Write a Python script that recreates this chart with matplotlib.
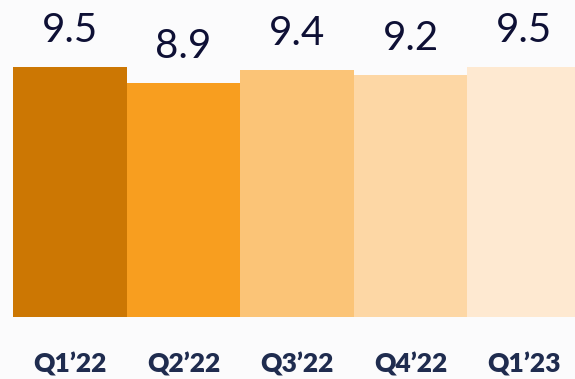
import matplotlib.pyplot as plt

quarters = ['Q1\u201922', 'Q2\u201922', 'Q3\u201922', 'Q4\u201922', 'Q1\u201923']
scores = [9.5, 8.9, 9.4, 9.2, 9.5]
colors = ['#cc7703', '#f89e1f', '#fbc477', '#fdd7a5', '#fee9d1']

bg = '#fbfbfc'
fig = plt.figure(figsize=(5.75, 3.79), dpi=100, facecolor=bg)
ax = fig.add_axes([0, 0.1644, 1, 0.8322], facecolor=bg)

x = range(len(scores))
ax.bar(x, scores, width=1.0, color=colors, linewidth=0)

for xi, v in zip(x, scores):
    ax.annotate(f'{v:.1f}', (xi, v), xytext=(0, 18), textcoords='offset points',
                ha='center', va='baseline', fontsize=29, family='Lato',
                color='#0e1035')

ax.set_xlim(-0.617, 4.449)
ax.set_ylim(0, 12)
ax.set_xticks(list(x))
ax.set_xticklabels(quarters, fontsize=19, fontweight='heavy', family='Lato',
                   color='#1f2c4f')
ax.tick_params(axis='x', length=0, pad=26)
ax.set_yticks([])
for s in ax.spines.values():
    s.set_visible(False)

fig.savefig('out.png', dpi=100, facecolor=bg)
